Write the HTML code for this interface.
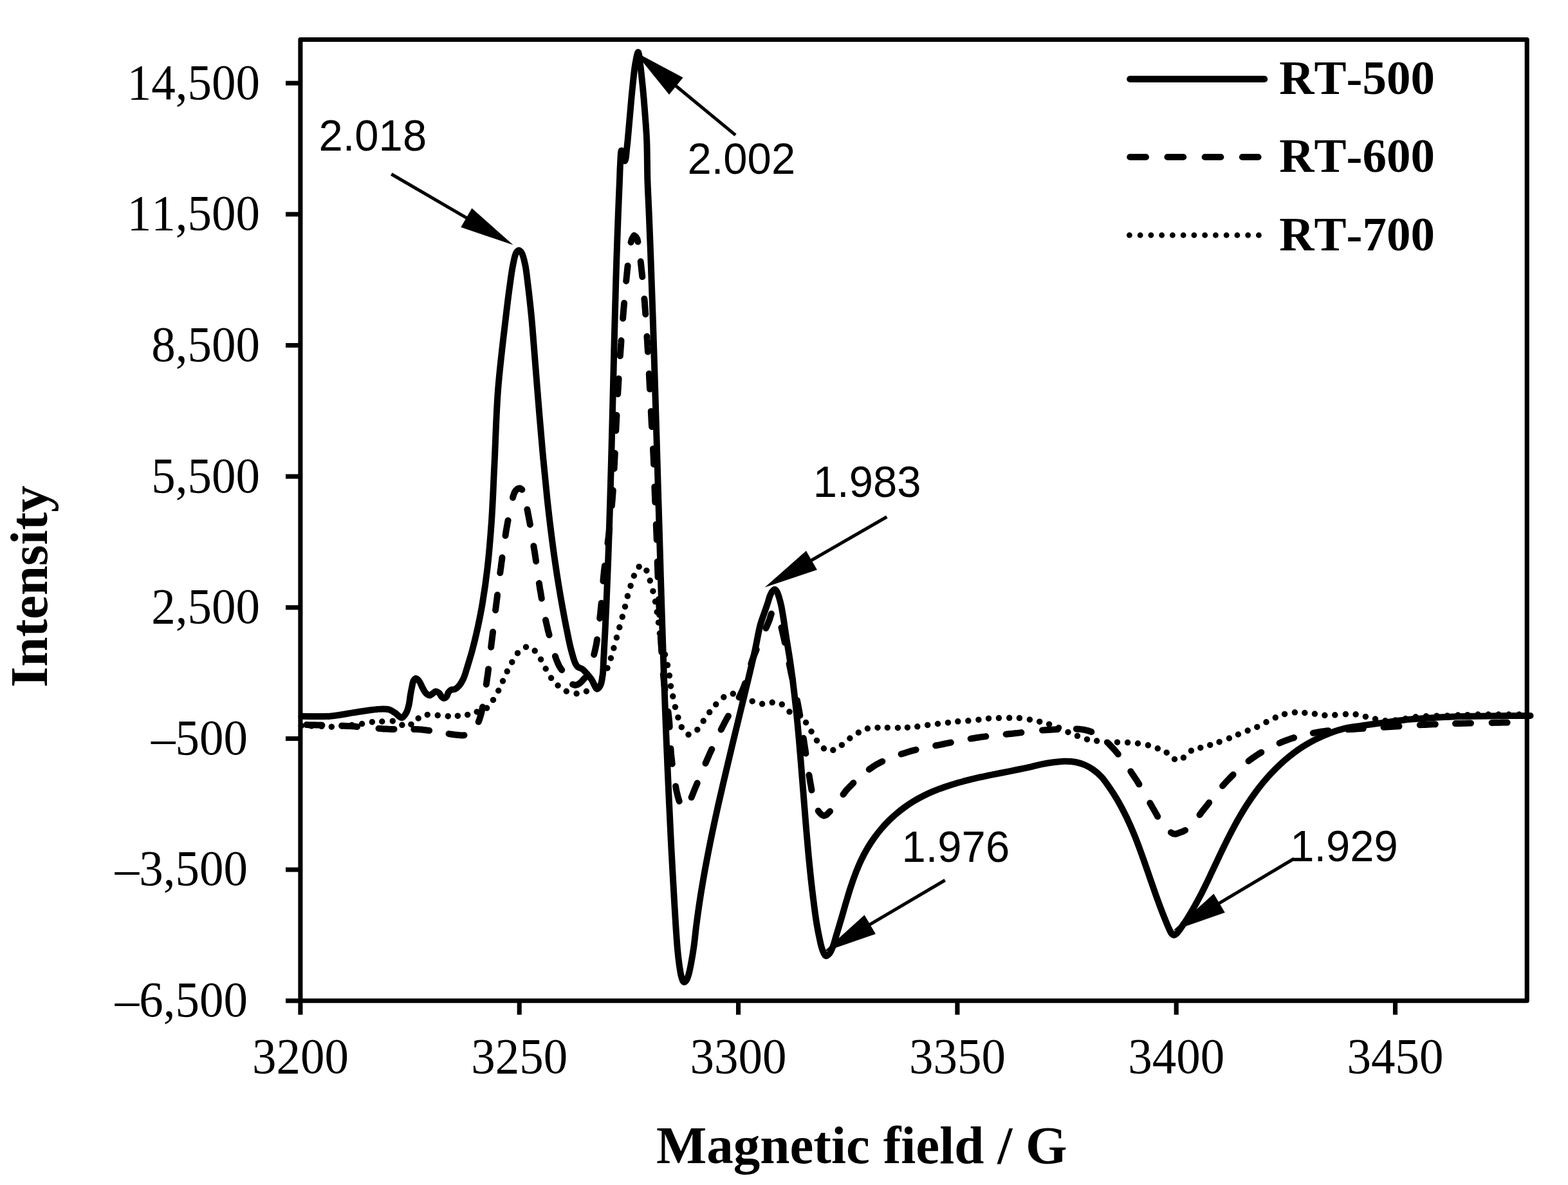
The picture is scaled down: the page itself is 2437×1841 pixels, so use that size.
<!DOCTYPE html>
<html lang="en">
<head>
<meta charset="utf-8">
<title>EPR spectra</title>
<style>
html,body{margin:0;padding:0;background:#fff;}
body{width:2437px;height:1841px;overflow:hidden;}
svg{display:block;}
text{font-kerning:none;font-variant-ligatures:none;white-space:pre;}
</style>
</head>
<body>
<svg width="2437" height="1841" viewBox="0 0 2437 1841">
<rect width="2437" height="1841" fill="#fff"/>
<g fill="none" stroke="#000" stroke-linecap="round" stroke-linejoin="round">
<path stroke-width="10" d="M468.5 1112.7C483.1 1112.7 498.3 1113.7 512.4 1112.7C525.6 1111.7 537.9 1108.8 550.4 1107.0C562.6 1105.2 576.6 1102.5 586.6 1101.9C593.6 1101.5 599.8 1101.1 604.7 1102.4C608.4 1103.4 610.6 1105.4 613.7 1107.3C617.2 1109.5 621.5 1115.4 624.6 1115.1C627.3 1114.8 629.7 1110.4 631.5 1107.3C633.5 1103.8 634.6 1099.1 635.6 1094.7C636.7 1090.1 637.0 1084.9 637.8 1080.2C638.5 1075.8 639.3 1071.5 640.2 1067.5C641.0 1063.9 641.4 1059.6 642.8 1057.3C643.8 1055.7 645.1 1054.0 646.4 1054.0C648.0 1054.0 650.1 1056.5 651.7 1058.5C653.8 1061.2 655.2 1066.0 657.1 1069.3C658.8 1072.3 660.4 1075.7 662.5 1077.5C664.2 1079.0 666.3 1080.3 668.0 1080.2C669.6 1080.1 671.0 1078.5 672.5 1077.5C674.0 1076.5 675.4 1074.4 677.0 1074.2C678.7 1074.0 680.9 1075.4 682.4 1076.6C684.0 1077.9 684.7 1080.6 686.0 1082.0C687.1 1083.2 688.4 1084.6 689.7 1084.7C691.1 1084.8 693.0 1083.3 694.2 1082.0C695.5 1080.5 695.6 1077.5 696.9 1075.7C698.1 1074.0 699.7 1072.3 701.4 1071.5C703.0 1070.7 705.0 1071.6 706.8 1070.8C709.0 1069.9 711.2 1068.0 713.2 1065.7C715.8 1062.8 718.3 1058.4 720.4 1054.0C722.8 1048.8 724.3 1042.7 726.3 1036.2C728.7 1028.5 731.3 1020.1 733.8 1011.0C736.6 1000.5 739.5 988.8 742.1 976.9C744.9 964.1 747.5 951.3 749.9 936.9C752.7 920.3 755.3 902.3 757.5 883.0C760.1 860.7 762.1 836.3 763.9 810.8C765.9 782.3 766.9 752.1 768.5 720.1C770.3 684.0 771.1 643.4 774.1 605.1C777.1 566.7 783.1 519.1 786.5 490.0C788.6 472.1 790.0 460.5 791.9 446.8C793.6 434.5 795.2 421.5 797.3 411.6C798.8 404.3 800.0 396.3 802.3 392.6C803.5 390.7 805.1 389.0 806.5 389.0C807.9 389.0 809.4 390.7 810.7 392.6C813.1 396.3 814.8 404.5 816.3 411.6C818.2 420.4 819.0 430.2 820.4 441.4C822.2 455.6 824.2 473.9 825.8 490.0C827.4 506.0 828.3 519.8 829.8 537.8C831.7 561.3 834.1 592.1 836.3 619.2C838.5 646.3 840.8 674.1 843.2 700.5C845.5 725.7 848.0 751.5 850.4 774.2C852.5 793.7 854.5 811.2 856.7 828.4C858.7 844.2 860.7 859.4 862.8 873.6C864.6 886.4 866.4 897.9 868.4 910.0C870.4 922.1 872.5 934.3 874.7 946.1C876.8 957.6 879.0 969.3 881.2 980.0C883.1 989.5 884.7 998.4 887.0 1007.1C889.1 1015.3 891.8 1025.6 894.2 1030.6C895.4 1033.2 896.2 1034.6 897.9 1036.1C899.8 1037.7 902.8 1037.9 905.1 1039.5C907.7 1041.3 910.0 1044.2 912.3 1046.9C914.8 1049.7 917.5 1052.7 919.6 1056.0C921.7 1059.3 923.3 1064.2 925.0 1066.8C926.1 1068.4 926.9 1070.4 928.1 1070.4C929.6 1070.4 931.8 1067.5 933.1 1065.0C935.1 1061.2 935.9 1054.7 936.7 1048.7C937.7 1041.6 937.6 1033.2 938.1 1025.1C938.6 1016.4 939.1 1006.1 939.5 998.0C939.9 991.4 940.1 987.2 940.5 979.9C941.1 968.6 941.8 953.2 942.5 937.0C943.4 916.0 944.5 888.8 945.4 864.7C946.3 840.6 947.0 816.4 947.8 792.3C948.5 768.2 949.2 743.9 949.9 720.0C950.5 696.5 951.1 673.5 951.7 650.0C952.3 626.3 952.9 602.9 953.5 578.5C954.1 552.9 954.8 524.6 955.5 500.0C956.1 478.1 956.6 457.8 957.2 438.0C957.7 419.7 958.3 402.9 958.9 385.3C959.5 367.8 960.1 350.2 960.8 332.7C961.5 315.1 962.4 294.3 963.0 280.0C963.4 270.1 963.5 263.0 964.0 255.0C964.5 247.7 964.8 234.1 965.8 234.0C966.6 233.9 967.8 243.1 969.0 246.0C969.7 247.8 970.7 250.1 971.4 250.0C972.8 249.7 973.6 235.8 974.3 230.0C974.9 225.5 975.1 223.2 975.6 218.0C976.5 208.6 977.9 191.7 979.1 178.5C980.3 165.3 981.3 152.2 982.7 139.0C984.1 125.8 985.4 110.1 987.3 99.5C988.6 92.1 990.6 81.0 991.9 81.0C993.2 81.0 994.0 92.2 995.0 99.5C996.5 110.2 998.0 125.8 999.3 139.0C1000.6 152.2 1001.6 165.3 1002.6 178.5C1003.6 191.7 1004.6 203.3 1005.2 218.0C1006.0 236.3 1005.8 260.2 1006.4 280.0C1007.0 298.3 1008.0 315.1 1008.7 332.7C1009.4 350.2 1010.1 367.8 1010.8 385.3C1011.5 402.9 1012.0 419.7 1012.7 438.0C1013.4 457.8 1014.2 478.1 1014.9 500.0C1015.7 524.6 1016.5 550.2 1017.4 578.5C1018.4 611.7 1019.7 654.9 1020.7 687.0C1021.5 712.6 1022.0 732.9 1022.7 756.2C1023.4 780.0 1024.2 804.4 1024.9 828.5C1025.6 852.6 1026.3 876.5 1027.0 900.9C1027.8 925.7 1028.6 950.9 1029.4 976.0C1030.2 1001.3 1031.1 1027.2 1032.0 1052.3C1032.9 1076.8 1033.7 1100.6 1034.7 1124.7C1035.6 1148.8 1036.7 1174.8 1037.7 1197.0C1038.5 1216.0 1039.3 1232.2 1040.1 1250.0C1040.9 1268.0 1041.8 1286.1 1042.7 1304.2C1043.6 1322.3 1044.6 1341.2 1045.6 1358.5C1046.5 1374.3 1047.4 1389.5 1048.2 1403.7C1049.0 1416.4 1049.6 1427.8 1050.4 1439.9C1051.2 1451.9 1052.1 1465.3 1053.1 1476.0C1053.9 1484.7 1054.8 1492.4 1055.8 1499.5C1056.7 1505.4 1057.5 1511.3 1058.6 1515.8C1059.4 1519.0 1060.2 1522.3 1061.3 1524.0C1061.9 1524.9 1062.6 1525.8 1063.4 1525.8C1064.4 1525.8 1065.7 1524.4 1066.7 1523.1C1068.2 1521.1 1069.2 1517.5 1070.3 1514.0C1071.7 1509.4 1072.7 1503.8 1073.9 1497.7C1075.4 1489.8 1077.1 1479.9 1078.4 1470.6C1079.8 1460.7 1080.7 1450.0 1082.0 1439.7C1083.3 1429.4 1084.7 1419.2 1086.2 1408.8C1087.8 1398.1 1089.4 1387.5 1091.3 1376.4C1093.3 1364.7 1095.5 1352.1 1097.7 1340.4C1099.8 1329.3 1101.8 1318.9 1104.0 1308.0C1106.3 1296.7 1109.0 1284.1 1111.2 1273.8C1113.1 1265.2 1114.2 1259.9 1116.4 1250.2C1119.9 1234.7 1126.2 1207.7 1130.4 1190.0C1133.7 1175.9 1136.4 1164.7 1139.4 1152.2C1142.3 1140.0 1145.3 1128.0 1148.2 1115.9C1151.1 1103.8 1154.1 1091.8 1157.0 1079.7C1159.9 1067.6 1162.9 1055.6 1165.7 1043.5C1168.5 1031.5 1171.4 1019.5 1174.0 1007.5C1176.6 995.5 1178.7 981.8 1181.5 971.4C1183.7 963.2 1186.6 956.2 1188.8 949.7C1190.6 944.4 1192.3 939.5 1193.7 935.2C1194.8 931.9 1195.4 929.0 1196.5 926.2C1197.6 923.6 1198.8 920.7 1200.2 918.9C1201.3 917.5 1202.6 915.8 1203.8 915.7C1204.9 915.7 1206.0 916.8 1206.9 918.0C1208.5 920.0 1209.6 924.4 1210.8 928.0C1212.1 932.1 1213.2 936.5 1214.3 941.5C1215.6 947.7 1216.7 954.8 1217.9 962.3C1219.3 971.2 1220.7 981.5 1222.2 991.3C1223.8 1001.4 1225.6 1011.8 1227.2 1022.0C1228.7 1032.2 1230.2 1042.3 1231.5 1052.7C1232.9 1063.4 1234.2 1074.6 1235.4 1085.3C1236.6 1095.7 1237.7 1105.7 1238.7 1116.0C1239.8 1126.6 1240.7 1137.3 1241.7 1148.0C1242.6 1158.7 1243.4 1168.2 1244.4 1180.0C1245.6 1194.5 1246.9 1211.7 1248.3 1228.6C1249.8 1247.0 1251.4 1268.2 1252.9 1286.2C1254.2 1302.2 1255.5 1317.2 1256.9 1331.4C1258.1 1344.1 1259.3 1355.5 1260.6 1367.5C1261.9 1379.6 1263.4 1392.1 1264.9 1403.7C1266.3 1414.4 1267.6 1424.9 1269.2 1434.4C1270.6 1442.8 1272.1 1450.7 1273.7 1458.0C1275.1 1464.4 1276.3 1471.1 1278.3 1476.0C1279.8 1479.7 1281.6 1484.6 1283.7 1485.1C1285.3 1485.5 1287.5 1483.3 1289.1 1481.5C1291.3 1479.0 1292.8 1474.8 1294.5 1470.6C1296.6 1465.4 1298.0 1459.0 1300.0 1452.5C1302.3 1444.8 1305.0 1435.9 1307.5 1427.5C1310.0 1419.0 1312.4 1410.2 1314.9 1401.9C1317.3 1393.9 1319.6 1386.1 1322.1 1378.4C1324.6 1370.8 1327.2 1363.3 1330.0 1356.0C1332.8 1348.9 1335.7 1341.8 1338.9 1335.2C1341.9 1329.0 1345.0 1323.2 1348.3 1317.6C1351.5 1312.2 1354.9 1307.0 1358.5 1302.0C1362.0 1297.2 1365.6 1292.5 1369.3 1288.1C1372.9 1283.8 1376.5 1279.9 1380.5 1275.9C1384.6 1271.8 1389.0 1267.7 1393.4 1264.0C1397.6 1260.4 1401.9 1257.1 1406.3 1253.9C1410.6 1250.8 1414.9 1247.8 1419.6 1245.0C1424.5 1242.0 1429.7 1239.2 1435.0 1236.5C1440.5 1233.7 1446.4 1231.1 1452.2 1228.7C1457.9 1226.3 1463.9 1224.2 1469.6 1222.2C1474.9 1220.4 1480.1 1218.7 1485.3 1217.2C1490.2 1215.7 1494.6 1214.6 1499.9 1213.2C1506.1 1211.6 1513.9 1209.7 1520.3 1208.2C1526.0 1206.9 1531.0 1205.9 1536.6 1204.7C1542.6 1203.5 1548.3 1202.4 1555.1 1201.0C1563.3 1199.4 1574.3 1197.2 1582.4 1195.5C1588.9 1194.2 1594.2 1193.1 1600.0 1191.8C1605.9 1190.5 1611.6 1188.8 1617.5 1187.6C1623.5 1186.4 1629.6 1185.3 1635.6 1184.5C1641.6 1183.7 1647.7 1182.8 1653.7 1182.7C1659.7 1182.6 1666.2 1182.9 1671.8 1184.0C1677.0 1185.0 1681.7 1186.5 1686.3 1188.5C1690.8 1190.4 1694.8 1192.8 1698.9 1195.7C1703.3 1198.8 1707.7 1202.4 1711.6 1206.6C1715.8 1211.1 1719.3 1216.3 1723.2 1221.8C1727.5 1227.9 1731.7 1234.3 1736.0 1241.6C1740.9 1250.0 1746.3 1260.2 1750.8 1269.5C1755.2 1278.6 1759.0 1287.3 1762.9 1296.9C1767.2 1307.3 1771.4 1319.0 1775.3 1329.7C1779.0 1339.9 1782.3 1349.8 1785.8 1359.9C1789.3 1370.0 1793.2 1381.2 1796.4 1390.3C1799.1 1397.7 1801.3 1403.9 1803.8 1410.5C1806.2 1416.9 1808.9 1423.6 1811.2 1429.3C1813.2 1434.1 1815.0 1438.7 1816.8 1442.5C1818.2 1445.5 1819.2 1448.6 1820.8 1450.3C1821.9 1451.5 1823.3 1452.7 1824.6 1452.7C1826.1 1452.7 1827.8 1451.1 1829.5 1449.5C1832.3 1446.8 1836.0 1440.7 1838.8 1436.7C1841.2 1433.3 1842.8 1430.8 1845.2 1427.1C1848.4 1422.1 1852.5 1415.2 1855.9 1409.2C1859.2 1403.3 1862.4 1397.5 1865.5 1391.6C1868.6 1385.8 1871.4 1379.9 1874.3 1374.0C1877.2 1368.1 1880.0 1362.1 1882.8 1356.2C1885.6 1350.3 1888.3 1344.5 1891.1 1338.6C1893.9 1332.7 1896.2 1327.6 1899.5 1320.9C1903.8 1312.0 1910.2 1299.1 1915.0 1290.0C1918.9 1282.6 1922.1 1276.8 1925.9 1270.1C1929.9 1263.2 1934.1 1256.1 1938.5 1249.4C1942.8 1242.8 1947.6 1236.0 1952.0 1230.0C1955.9 1224.7 1959.5 1220.1 1963.4 1215.4C1967.3 1210.8 1971.1 1206.4 1975.3 1201.9C1979.6 1197.3 1984.2 1192.6 1989.0 1188.1C1994.0 1183.4 1999.2 1178.9 2004.9 1174.4C2011.1 1169.5 2018.0 1164.4 2024.8 1160.1C2031.4 1155.9 2038.0 1152.1 2044.9 1148.6C2051.9 1145.1 2059.2 1141.8 2066.6 1139.0C2074.0 1136.2 2081.8 1133.7 2089.1 1131.9C2095.9 1130.2 2102.4 1129.4 2108.9 1128.4C2115.3 1127.4 2121.0 1126.7 2127.8 1125.8C2135.6 1124.7 2144.4 1123.6 2153.2 1122.4C2162.7 1121.1 2173.0 1119.4 2183.0 1118.4C2193.1 1117.3 2203.5 1116.8 2213.7 1116.1C2223.9 1115.4 2233.1 1114.6 2244.4 1114.1C2258.2 1113.4 2274.9 1113.0 2290.6 1112.7C2306.8 1112.4 2324.6 1112.2 2340.0 1112.1C2353.6 1112.0 2365.7 1112.0 2378.5 1111.9"/>
<path stroke-width="10" d="M476.4 1126.1L480.4 1126.2L484.4 1126.2L488.4 1126.3L492.4 1126.4L496.4 1126.5L500.4 1126.6M531.2 1127.5L535.2 1127.7L539.2 1127.9L543.2 1128.1L547.2 1128.3L551.2 1128.6L555.2 1128.9M588.5 1131.8L592.5 1132.1L596.5 1132.4L600.5 1132.6L604.5 1132.8L608.5 1132.9L612.5 1132.9M643.3 1133.0L647.3 1133.1L651.3 1133.3L655.3 1133.6L659.3 1134.0L663.3 1134.5L667.2 1135.0M697.6 1140.1L701.6 1140.7L705.5 1141.3L709.5 1141.7L713.5 1142.1L717.5 1142.4L721.5 1142.2M743.7 1121.4L745.2 1117.6L746.4 1113.8L747.5 1110.0L748.5 1106.1L749.3 1102.2L750.1 1098.3M755.8 1063.2L756.4 1059.2L756.9 1055.3L757.5 1051.3L758.1 1047.3L758.6 1043.4L759.1 1039.4M763.2 1005.5L763.6 1001.5L764.1 997.6L764.6 993.6L765.1 989.6L765.6 985.7L766.1 981.7M770.1 948.0L770.6 944.0L771.1 940.1L771.6 936.1L772.1 932.1L772.6 928.2L773.1 924.2M777.3 890.1L777.8 886.1L778.4 882.2L778.9 878.2L779.4 874.2L780.0 870.3L780.5 866.3M785.5 832.2L786.1 828.3L786.7 824.3L787.4 820.4L788.1 816.5L788.8 812.5L789.6 808.6M797.0 773.0L798.1 769.2L799.5 765.4L801.5 762.0L804.5 759.4L808.3 758.4L811.4 760.8M819.4 791.4L820.2 795.3L820.9 799.3L821.7 803.2L822.4 807.1L823.2 811.1L823.9 815.0M829.4 848.2L830.0 852.2L830.7 856.1L831.3 860.1L831.9 864.1L832.5 868.0L833.1 872.0M837.9 906.1L838.5 910.1L839.1 914.1L839.8 918.0L840.5 921.9L841.1 925.9L841.8 929.8M848.0 963.3L848.9 967.2L849.8 971.1L850.7 975.0L851.6 978.9L852.6 982.8L853.6 986.6M862.9 1019.4L864.2 1023.2L865.6 1026.9L867.1 1030.6L868.9 1034.2L870.9 1037.6L873.2 1040.9M890.1 1063.3L893.8 1064.6L897.7 1063.7L901.0 1061.5L903.9 1058.8L906.6 1055.8L909.3 1052.9M923.2 1017.0L924.2 1013.1L925.1 1009.2L925.9 1005.3L926.7 1001.4L927.4 997.4L928.0 993.5M932.2 960.7L932.6 956.8L933.1 952.8L933.5 948.8L933.9 944.8L934.3 940.8L934.7 936.9M937.4 902.8L937.7 898.9L938.1 894.9L938.5 890.9L938.9 886.9L939.4 883.0L939.9 879.0M944.5 843.9L945.0 839.9L945.5 836.0L946.0 832.0L946.5 828.0L946.9 824.1L947.3 820.1M950.9 785.8L951.2 781.8L951.6 777.8L951.9 773.8L952.2 769.8L952.5 765.8L952.8 761.8M954.6 728.0L954.8 724.0L955.0 720.0L955.2 716.0L955.4 712.0L955.6 708.0L955.8 704.0M957.3 669.1L957.5 665.1L957.7 661.1L957.9 657.1L958.1 653.1L958.3 649.1L958.5 645.1M960.2 612.2L960.4 608.2L960.7 604.2L960.9 600.2L961.1 596.2L961.4 592.2L961.6 588.2M963.9 553.1L964.1 549.1L964.4 545.1L964.7 541.1L965.0 537.1L965.3 533.1L965.5 529.1M968.1 494.8L968.4 490.8L968.8 486.8L969.1 482.8L969.4 478.8L969.8 474.8L970.1 470.8M973.2 436.7L973.6 432.8L974.0 428.8L974.4 424.8L974.8 420.8L975.2 416.8L975.6 412.9M980.6 376.4L981.7 372.6L983.3 368.9L985.6 365.8L988.6 368.2L990.5 371.7L991.4 375.6M995.7 406.3L996.1 410.2L996.6 414.2L997.0 418.2L997.4 422.2L997.9 426.2L998.3 430.1M1001.4 464.2L1001.8 468.2L1002.1 472.2L1002.4 476.2L1002.7 480.2L1003.0 484.2L1003.3 488.2M1005.5 522.6L1005.7 526.6L1006.0 530.6L1006.2 534.6L1006.4 538.6L1006.7 542.6L1006.9 546.6M1008.8 580.6L1009.0 584.6L1009.2 588.6L1009.4 592.6L1009.6 596.6L1009.8 600.6L1010.0 604.6M1011.8 638.9L1012.0 642.9L1012.2 646.9L1012.4 650.9L1012.6 654.9L1012.8 658.9L1013.1 662.9M1015.0 697.2L1015.2 701.2L1015.4 705.2L1015.6 709.2L1015.8 713.2L1015.9 717.2L1016.1 721.2M1017.3 756.3L1017.5 760.3L1017.6 764.3L1017.8 768.3L1018.0 772.3L1018.1 776.3L1018.3 780.3M1019.8 814.7L1020.0 818.7L1020.1 822.7L1020.3 826.7L1020.4 830.7L1020.6 834.7L1020.7 838.7M1021.7 872.6L1021.8 876.6L1022.0 880.6L1022.1 884.6L1022.2 888.6L1022.4 892.6L1022.5 896.6M1024.0 931.0L1024.1 935.0L1024.3 939.0L1024.5 943.0L1024.7 947.0L1024.9 951.0L1025.1 955.0M1026.8 989.0L1027.0 993.0L1027.2 997.0L1027.5 1001.0L1027.8 1005.0L1028.0 1009.0L1028.3 1013.0M1030.8 1047.6L1031.2 1051.5L1031.6 1055.5L1032.0 1059.5L1032.4 1063.5L1032.9 1067.4L1033.5 1071.4M1038.4 1105.5L1038.9 1109.4L1039.4 1113.4L1039.8 1117.4L1040.2 1121.4L1040.5 1125.4L1040.7 1129.4M1042.4 1162.9L1042.7 1166.9L1043.0 1170.9L1043.4 1174.9L1043.8 1178.9L1044.3 1182.8L1044.8 1186.8M1050.1 1221.4L1050.8 1225.4L1051.6 1229.3L1052.5 1233.2L1053.4 1237.1L1054.5 1241.0L1055.7 1244.8M1074.6 1238.8L1076.1 1235.1L1077.6 1231.4L1079.1 1227.7L1080.6 1224.0L1082.2 1220.3L1083.7 1216.6M1096.5 1185.9L1098.1 1182.2L1099.7 1178.6L1101.3 1174.9L1102.9 1171.3L1104.6 1167.6L1106.3 1164.0M1120.7 1133.6L1122.5 1130.0L1124.3 1126.5L1126.1 1122.9L1128.0 1119.4L1129.9 1115.9L1131.9 1112.4M1148.6 1083.4L1150.4 1079.8L1152.1 1076.2L1153.8 1072.6L1155.3 1068.9L1156.8 1065.2L1158.1 1061.4M1167.3 1031.5L1168.5 1027.7L1169.8 1024.0L1171.2 1020.2L1172.7 1016.5L1174.2 1012.8L1175.7 1009.1M1190.4 976.0L1192.0 972.4L1193.6 968.7L1195.1 965.0L1196.5 961.2L1197.6 957.4L1198.9 953.6M1214.5 975.0L1215.4 978.9L1216.3 982.8L1217.2 986.7L1218.1 990.6L1219.0 994.5L1219.8 998.4M1226.6 1031.3L1227.4 1035.2L1228.2 1039.1L1229.0 1043.0L1229.8 1046.9L1230.7 1050.8L1231.6 1054.7M1238.9 1088.0L1239.7 1091.9L1240.5 1095.9L1241.2 1099.8L1241.9 1103.7L1242.6 1107.7L1243.3 1111.6M1248.8 1146.8L1249.4 1150.8L1250.0 1154.7L1250.6 1158.7L1251.2 1162.7L1251.8 1166.6L1252.4 1170.6M1257.4 1204.0L1258.1 1207.9L1258.7 1211.9L1259.4 1215.8L1260.1 1219.7L1260.8 1223.7L1261.5 1227.6M1271.7 1259.8L1274.2 1263.0L1277.0 1265.8L1280.6 1267.4L1284.3 1266.0L1287.2 1263.3L1290.0 1260.5M1310.5 1234.3L1312.9 1231.0L1315.3 1227.9L1318.0 1224.9L1320.8 1222.0L1323.6 1219.2L1326.4 1216.3M1350.8 1195.4L1354.0 1193.1L1357.3 1190.8L1360.7 1188.7L1364.2 1186.7L1367.7 1184.8L1371.3 1183.0M1400.6 1171.6L1404.4 1170.4L1408.2 1169.2L1412.0 1168.0L1415.8 1166.9L1419.7 1165.8L1423.6 1164.8M1454.2 1158.3L1458.2 1157.6L1462.1 1156.8L1466.0 1156.0L1469.9 1155.2L1473.8 1154.4L1477.8 1153.6M1508.6 1147.6L1512.5 1147.0L1516.4 1146.3L1520.4 1145.7L1524.4 1145.1L1528.3 1144.6L1532.3 1144.1M1563.6 1140.7L1567.5 1140.3L1571.5 1139.9L1575.5 1139.5L1579.5 1139.1L1583.4 1138.6L1587.4 1138.1M1620.0 1134.5L1624.0 1134.2L1628.0 1133.9L1632.0 1133.7L1636.0 1133.5L1640.0 1133.3L1644.0 1133.0M1672.9 1132.4L1676.9 1132.7L1680.8 1133.1L1684.8 1133.7L1688.7 1134.6L1692.6 1135.6L1696.3 1137.0M1721.7 1153.9L1724.5 1156.8L1727.3 1159.7L1730.0 1162.6L1732.7 1165.6L1735.2 1168.6L1737.8 1171.7M1757.3 1198.4L1759.5 1201.8L1761.8 1205.1L1764.0 1208.4L1766.2 1211.7L1768.3 1215.1L1770.4 1218.5M1787.3 1247.6L1789.3 1251.1L1791.3 1254.5L1793.3 1258.0L1795.3 1261.5L1797.3 1265.0L1799.2 1268.5M1819.9 1293.3L1823.3 1295.3L1827.2 1295.7L1831.0 1294.4L1834.8 1293.1L1838.5 1291.7L1842.1 1289.9M1864.5 1265.9L1866.9 1262.7L1869.3 1259.5L1871.8 1256.4L1874.3 1253.3L1876.8 1250.1L1879.2 1247.0M1900.1 1221.0L1902.8 1218.0L1905.5 1215.0L1908.2 1212.1L1911.0 1209.2L1913.8 1206.4L1916.6 1203.6M1940.5 1182.4L1943.7 1179.9L1946.9 1177.6L1950.2 1175.3L1953.5 1173.1L1956.9 1170.9L1960.3 1168.9M1988.6 1154.5L1992.3 1152.9L1996.0 1151.4L1999.7 1150.0L2003.5 1148.6L2007.2 1147.3L2011.1 1146.1M2040.8 1138.8L2044.7 1138.1L2048.7 1137.4L2052.6 1136.7L2056.6 1136.1L2060.5 1135.6L2064.5 1135.2M2094.8 1133.3L2098.8 1133.1L2102.8 1132.9L2106.8 1132.6L2110.8 1132.3L2114.8 1132.0L2118.8 1131.8M2150.5 1129.7L2154.5 1129.5L2158.5 1129.2L2162.5 1129.0L2166.5 1128.8L2170.5 1128.5L2174.5 1128.3M2206.8 1126.3L2210.8 1126.1L2214.8 1125.9L2218.8 1125.7L2222.8 1125.5L2226.8 1125.3L2230.8 1125.2M2262.0 1124.1L2266.0 1124.0L2270.0 1123.9L2274.0 1123.8L2278.0 1123.7L2282.0 1123.6L2286.0 1123.5M2318.6 1122.9L2322.6 1122.8L2326.6 1122.8L2330.6 1122.7L2334.6 1122.6L2338.6 1122.6L2342.6 1122.5"/>
<path stroke-width="9.5" d="M468.4 1127.5h.01M484.1 1127.8h.01M499.8 1128.3h.01M515.3 1129.2h.01M531.2 1128.0h.01M546.8 1126.5h.01M562.6 1124.5h.01M578.4 1121.7h.01M593.8 1121.0h.01M610.3 1120.2h.01M624.9 1126.3h.01M639.0 1125.4h.01M650.2 1116.0h.01M664.3 1110.4h.01M680.3 1111.3h.01M696.3 1112.7h.01M711.4 1112.2h.01M726.7 1110.4h.01M741.2 1105.9h.01M756.6 1100.1h.01M766.5 1087.4h.01M774.7 1073.0h.01M781.5 1058.1h.01M788.2 1043.1h.01M795.8 1028.7h.01M804.5 1014.7h.01M817.5 1005.2h.01M831.2 1011.1h.01M840.6 1024.5h.01M848.2 1039.0h.01M856.6 1053.3h.01M867.1 1065.0h.01M880.3 1074.0h.01M896.1 1077.6h.01M911.4 1074.0h.01M925.0 1065.0h.01M936.0 1052.0h.01M944.0 1037.9h.01M949.4 1022.5h.01M953.9 1006.8h.01M958.4 990.6h.01M962.8 974.6h.01M967.3 958.3h.01M971.5 942.4h.01M975.4 926.1h.01M980.1 910.2h.01M985.4 894.5h.01M993.2 880.4h.01M1004.9 886.4h.01M1010.3 902.1h.01M1014.9 918.4h.01M1018.5 934.6h.01M1021.2 950.9h.01M1023.5 967.2h.01M1025.4 984.0h.01M1029.4 1000.4h.01M1033.5 1016.9h.01M1037.5 1033.3h.01M1040.4 1049.6h.01M1042.5 1065.9h.01M1045.8 1081.8h.01M1049.4 1098.4h.01M1053.9 1114.7h.01M1059.3 1129.7h.01M1070.0 1141.3h.01M1083.8 1133.7h.01M1093.2 1120.1h.01M1102.7 1106.6h.01M1112.7 1094.3h.01M1124.8 1083.1h.01M1139.3 1077.8h.01M1154.6 1082.2h.01M1169.2 1089.4h.01M1184.6 1093.6h.01M1200.2 1091.3h.01M1215.3 1094.3h.01M1227.0 1105.8h.01M1240.0 1114.5h.01M1252.6 1122.5h.01M1261.0 1136.5h.01M1269.5 1150.4h.01M1280.4 1162.8h.01M1294.8 1165.3h.01M1308.4 1157.4h.01M1320.9 1147.0h.01M1334.3 1138.1h.01M1348.4 1131.8h.01M1364.0 1130.4h.01M1379.3 1130.4h.01M1395.4 1130.7h.01M1410.4 1130.2h.01M1425.8 1128.8h.01M1441.7 1126.4h.01M1457.5 1124.5h.01M1473.4 1122.7h.01M1488.8 1120.8h.01M1504.8 1119.8h.01M1520.9 1118.2h.01M1536.5 1116.2h.01M1552.4 1115.6h.01M1568.7 1115.3h.01M1584.4 1115.6h.01M1600.4 1118.0h.01M1615.7 1121.2h.01M1630.6 1125.2h.01M1645.6 1130.6h.01M1660.0 1137.5h.01M1674.5 1143.3h.01M1689.5 1148.7h.01M1704.7 1151.1h.01M1720.6 1153.2h.01M1736.5 1153.2h.01M1752.6 1153.6h.01M1768.5 1155.0h.01M1784.4 1157.8h.01M1799.3 1162.8h.01M1813.2 1169.2h.01M1825.5 1179.5h.01M1839.4 1177.1h.01M1851.4 1166.3h.01M1865.8 1161.7h.01M1880.7 1157.4h.01M1895.1 1152.7h.01M1910.4 1147.0h.01M1924.4 1141.0h.01M1939.2 1135.1h.01M1953.8 1129.4h.01M1968.0 1121.8h.01M1982.3 1114.8h.01M1996.6 1109.4h.01M2012.4 1106.8h.01M2027.8 1107.5h.01M2043.4 1109.1h.01M2058.9 1111.3h.01M2074.8 1110.8h.01M2091.4 1109.6h.01M2107.1 1109.8h.01M2122.4 1113.4h.01M2137.5 1117.0h.01M2153.0 1119.7h.01M2168.8 1119.0h.01M2184.5 1116.5h.01M2200.2 1113.8h.01M2216.5 1112.7h.01M2232.9 1112.2h.01M2249.4 1111.9h.01M2266.0 1111.0h.01M2280.9 1110.7h.01M2297.0 1110.0h.01M2313.2 1110.0h.01M2329.0 1110.0h.01M2345.0 1110.0h.01M2361.0 1110.0h.01"/>
</g>
<g fill="none" stroke="#000" stroke-width="7.1">
<rect x="466.9" y="61.5" width="1906.3" height="1493.3" stroke-linejoin="round"/>
<line x1="444" x2="466.9" y1="129.2" y2="129.2"/>
<line x1="444" x2="466.9" y1="332.9" y2="332.9"/>
<line x1="444" x2="466.9" y1="536.5" y2="536.5"/>
<line x1="444" x2="466.9" y1="740.2" y2="740.2"/>
<line x1="444" x2="466.9" y1="943.8" y2="943.8"/>
<line x1="444" x2="466.9" y1="1147.5" y2="1147.5"/>
<line x1="444" x2="466.9" y1="1351.1" y2="1351.1"/>
<line x1="444" x2="466.9" y1="1554.8" y2="1554.8"/>
<line x1="466.9" x2="466.9" y1="1554.8" y2="1576.5"/>
<line x1="807.2" x2="807.2" y1="1554.8" y2="1576.5"/>
<line x1="1147.5" x2="1147.5" y1="1554.8" y2="1576.5"/>
<line x1="1487.9" x2="1487.9" y1="1554.8" y2="1576.5"/>
<line x1="1828.2" x2="1828.2" y1="1554.8" y2="1576.5"/>
<line x1="2168.5" x2="2168.5" y1="1554.8" y2="1576.5"/>
</g>
<g font-family="'Liberation Serif', 'Times New Roman', serif" font-size="75" fill="#000">
<text transform="translate(404.1 153.5) scale(1 1.03)" text-anchor="end">14,500</text>
<text transform="translate(404.1 357.2) scale(1 1.03)" text-anchor="end">11,500</text>
<text transform="translate(404.1 560.8) scale(1 1.03)" text-anchor="end">8,500</text>
<text transform="translate(404.1 764.5) scale(1 1.03)" text-anchor="end">5,500</text>
<text transform="translate(404.1 968.1) scale(1 1.03)" text-anchor="end">2,500</text>
<text transform="translate(384.9 1171.8) scale(1 1.03)" text-anchor="end">–500</text>
<text transform="translate(384.9 1375.4) scale(1 1.03)" text-anchor="end">–3,500</text>
<text transform="translate(384.9 1579.1) scale(1 1.03)" text-anchor="end">–6,500</text>
<text transform="translate(466.9 1666.5) scale(1 1.03)" text-anchor="middle">3200</text>
<text transform="translate(807.2 1666.5) scale(1 1.03)" text-anchor="middle">3250</text>
<text transform="translate(1147.5 1666.5) scale(1 1.03)" text-anchor="middle">3300</text>
<text transform="translate(1487.9 1666.5) scale(1 1.03)" text-anchor="middle">3350</text>
<text transform="translate(1828.2 1666.5) scale(1 1.03)" text-anchor="middle">3400</text>
<text transform="translate(2168.5 1666.5) scale(1 1.03)" text-anchor="middle">3450</text>
</g>
<g font-family="'Liberation Serif', 'Times New Roman', serif" font-weight="bold" font-size="83" fill="#000">
<text x="1339.3" y="1807.3" text-anchor="middle">Magnetic field / G</text>
<text transform="translate(72.7 911.2) rotate(-90)" text-anchor="middle">Intensity</text>
</g>
<g fill="none" stroke="#000" stroke-linecap="round">
<line x1="1756.3" x2="1965.1" y1="122.9" y2="122.9" stroke-width="10.2"/>
<line x1="1756.3" x2="1965.1" y1="244.0" y2="244.0" stroke-width="10.2" stroke-dasharray="24.6 33.6"/>
<line x1="1755.4" x2="1960" y1="365.4" y2="365.4" stroke-width="8.8" stroke-dasharray="0.01 16.74"/>
</g>
<g font-family="'Liberation Serif', 'Times New Roman', serif" font-weight="bold" font-size="75" fill="#000">
<text x="1988.3" y="145.7">RT-500</text>
<text x="1988.3" y="267.4">RT-600</text>
<text x="1988.3" y="389.0">RT-700</text>
</g>
<line x1="608.3" y1="270.5" x2="726.6" y2="339.3" stroke="#000" stroke-width="5.0"/>
<polygon points="797.5,380.5 716.3,353.0 733.4,323.6" fill="#000"/>
<line x1="1143.1" y1="209.9" x2="1049.3" y2="132.5" stroke="#000" stroke-width="5.0"/>
<polygon points="986.0,80.3 1061.6,120.6 1040.0,146.9" fill="#000"/>
<line x1="1378.3" y1="803.0" x2="1259.6" y2="871.4" stroke="#000" stroke-width="5.0"/>
<polygon points="1188.6,912.4 1252.9,855.7 1269.9,885.2" fill="#000"/>
<line x1="1468.7" y1="1367.5" x2="1350.5" y2="1437.2" stroke="#000" stroke-width="5.0"/>
<polygon points="1279.9,1478.9 1343.6,1421.6 1360.9,1450.9" fill="#000"/>
<line x1="2011.2" y1="1334.0" x2="1893.4" y2="1404.2" stroke="#000" stroke-width="5.0"/>
<polygon points="1822.9,1446.1 1886.4,1388.5 1903.8,1417.7" fill="#000"/>
<g font-family="'Liberation Sans', Arial, Helvetica, sans-serif" font-size="67" fill="#000">
<text transform="translate(495.5 233.6) scale(1 1.035)">2.018</text>
<text transform="translate(1068.5 269.5) scale(1 1.035)">2.002</text>
<text transform="translate(1263.8 772.3) scale(1 1.035)">1.983</text>
<text transform="translate(1401.5 1338.7) scale(1 1.035)">1.976</text>
<text transform="translate(2005.2 1338.3) scale(1 1.035)">1.929</text>
</g>
</svg>
</body>
</html>
